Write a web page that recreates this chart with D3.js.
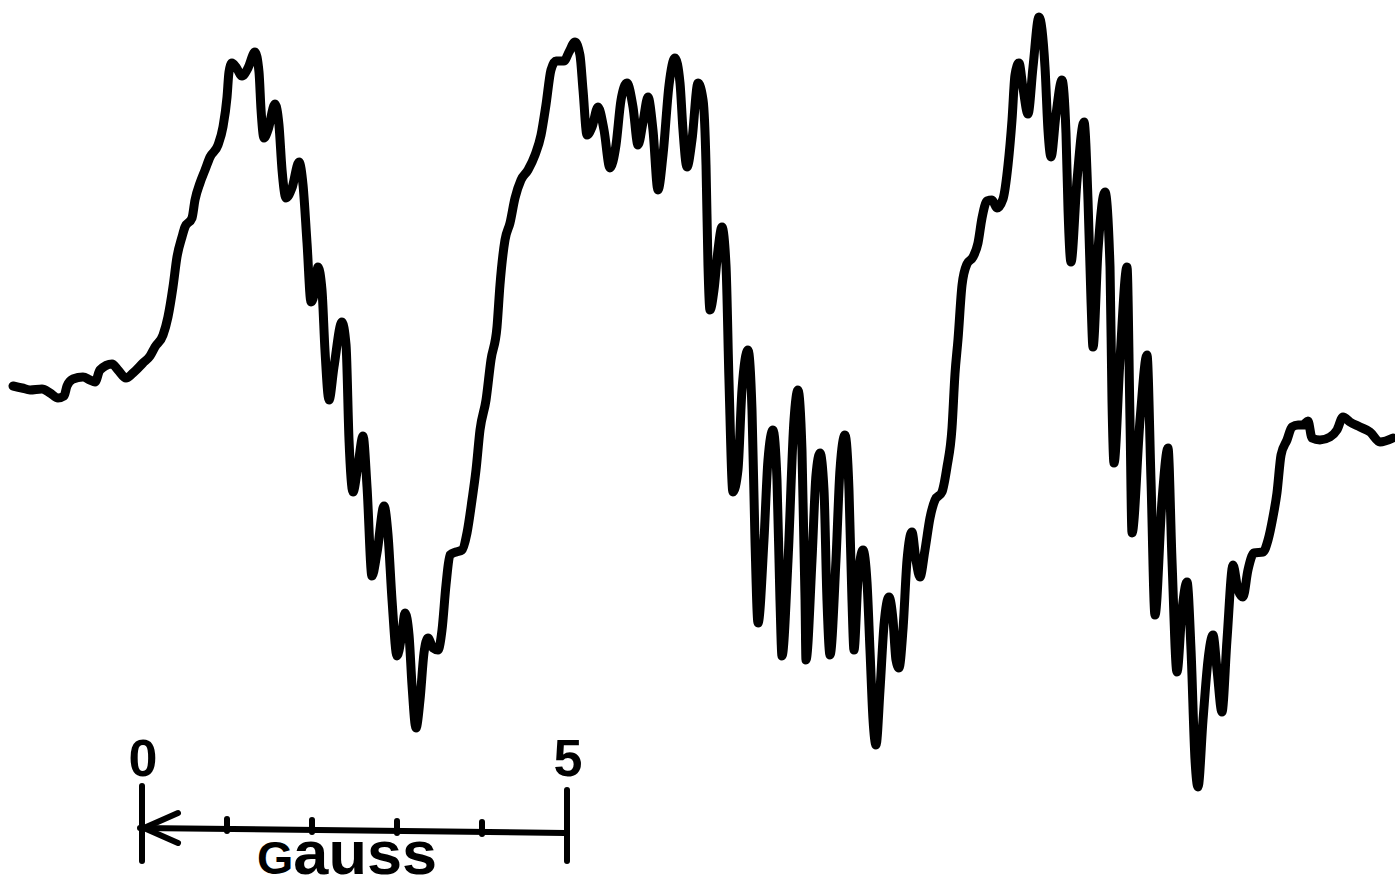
<!DOCTYPE html>
<html>
<head>
<meta charset="utf-8">
<script src="https://cdn.jsdelivr.net/npm/d3@7"></script>
<style>
  html, body { margin: 0; padding: 0; background: #fff; }
  svg { display: block; }
</style>
</head>
<body>
<svg id="chart"></svg>
<script>
// field position along the sweep, in gauss (0 = left end of the scale bar)
const field = [
  -1.494, -1.388, -1.294, -1.153, -1.059, -0.965, -0.894, -0.859, -0.788, -0.671,
  -0.588, -0.529, -0.471, -0.329, -0.259, -0.165, -0.082, 0.035, 0.118, 0.176,
  0.271, 0.329, 0.388, 0.435, 0.494, 0.529, 0.612, 0.647, 0.706, 0.765,
  0.824, 0.918, 0.976, 1.024, 1.047, 1.082, 1.129, 1.2, 1.271, 1.353,
  1.4, 1.424, 1.459, 1.506, 1.588, 1.635, 1.671, 1.718, 1.788, 1.871,
  1.918, 1.965, 2.012, 2.059, 2.094, 2.141, 2.176, 2.224, 2.282, 2.376,
  2.424, 2.459, 2.506, 2.565, 2.624, 2.671, 2.729, 2.788, 2.871, 2.918,
  2.965, 3.024, 3.082, 3.118, 3.165, 3.2, 3.247, 3.294, 3.341, 3.388,
  3.447, 3.506, 3.553, 3.6, 3.647, 3.718, 3.788, 3.847, 3.906, 3.953,
  4.0, 4.071, 4.129, 4.2, 4.235, 4.294, 4.353, 4.412, 4.482, 4.565,
  4.647, 4.718, 4.776, 4.835, 4.894, 4.988, 5.047, 5.118, 5.176, 5.212,
  5.259, 5.318, 5.388, 5.459, 5.529, 5.6, 5.659, 5.729, 5.8, 5.859,
  5.918, 5.976, 6.035, 6.094, 6.153, 6.224, 6.294, 6.353, 6.388, 6.435,
  6.494, 6.565, 6.624, 6.659, 6.682, 6.706, 6.753, 6.8, 6.847, 6.894,
  6.929, 6.976, 7.035, 7.082, 7.153, 7.2, 7.235, 7.271, 7.341, 7.388,
  7.447, 7.494, 7.529, 7.553, 7.624, 7.694, 7.741, 7.788, 7.824, 7.835,
  7.906, 7.953, 8.0, 8.047, 8.082, 8.118, 8.188, 8.235, 8.294, 8.341,
  8.376, 8.4, 8.447, 8.506, 8.553, 8.588, 8.624, 8.659, 8.706, 8.753,
  8.812, 8.859, 8.894, 8.929, 8.976, 9.024, 9.082, 9.129, 9.176, 9.235,
  9.294, 9.353, 9.435, 9.494, 9.553, 9.588, 9.624, 9.671, 9.729, 9.8,
  9.859, 9.906, 9.965, 10.024, 10.082, 10.153, 10.212, 10.259, 10.294, 10.341,
  10.388, 10.447, 10.506, 10.576, 10.647, 10.682, 10.718, 10.776, 10.847, 10.894,
  10.918, 10.953, 11.024, 11.106, 11.153, 11.188, 11.212, 11.271, 11.353, 11.412,
  11.435, 11.459, 11.529, 11.612, 11.647, 11.671, 11.765, 11.847, 11.894, 11.941,
  12.024, 12.094, 12.141, 12.2, 12.259, 12.318, 12.365, 12.412, 12.447, 12.506,
  12.565, 12.624, 12.671, 12.729, 12.788, 12.859, 12.918, 12.976, 13.035, 13.106,
  13.212, 13.271, 13.329, 13.376, 13.424, 13.494, 13.553, 13.624, 13.682, 13.741,
  13.788, 13.882, 14.0, 14.082, 14.153, 14.235, 14.353, 14.471, 14.588, 14.741
];

// first-derivative signal, arbitrary units
const signal = [
  1.4, 1.2, 1.0, 1.1, 0.7, 0.2, 0.4, 1.4, 2.1, 2.3,
  2.0, 1.8, 3.0, 3.6, 3.0, 2.2, 2.7, 3.7, 4.4, 5.3,
  6.5, 8.3, 11.3, 14.3, 16.3, 17.3, 18.2, 20.0, 21.7, 23.0,
  24.3, 25.5, 27.3, 30.3, 32.8, 33.7, 33.3, 32.4, 33.2, 34.8,
  32.8, 29.0, 26.2, 27.0, 29.6, 27.5, 23.0, 20.2, 21.2, 23.8,
  21.5, 15.7, 9.8, 11.0, 13.3, 11.0, 5.0, 0.0, 3.3, 7.8,
  5.5, -4.0, -9.2, -6.5, -3.6, -8.7, -17.6, -15.3, -10.6, -13.5,
  -20.0, -25.6, -23.3, -21.3, -23.5, -28.5, -32.8, -30.0, -25.3, -23.8,
  -24.8, -25.0, -23.0, -18.5, -15.5, -15.2, -15.0, -13.3, -10.0, -7.0,
  -3.0, 0.0, 4.0, 7.3, 11.5, 16.0, 17.7, 20.2, 22.0, 23.0,
  24.5, 26.5, 29.5, 33.0, 33.9, 33.9, 34.8, 35.8, 34.5, 31.0,
  26.5, 27.3, 29.3, 27.0, 23.2, 25.5, 30.0, 31.7, 29.3, 25.5,
  27.8, 30.3, 27.0, 21.0, 24.5, 31.5, 34.2, 31.7, 27.0, 23.3,
  26.0, 31.7, 30.0, 23.5, 13.5, 9.0, 11.0, 15.0, 17.3, 13.5,
  2.0, -9.2, -7.0, 1.0, 5.0, -1.0, -14.0, -22.3, -14.0, -6.0,
  -3.0, -8.0, -20.0, -25.6, -16.0, -2.0, 1.0, -5.0, -20.0, -26.0,
  -16.0, -7.5, -5.3, -9.0, -20.0, -25.5, -16.0, -7.0, -3.5, -9.0,
  -20.0, -25.0, -18.0, -15.0, -18.2, -25.0, -32.0, -34.5, -29.0, -22.5,
  -19.7, -22.0, -26.0, -26.8, -23.0, -16.0, -13.2, -16.0, -17.7, -15.0,
  -11.8, -10.0, -9.2, -6.7, -2.8, 2.6, 6.1, 11.5, 13.6, 14.3,
  15.7, 18.2, 19.9, 20.0, 19.2, 20.1, 23.5, 28.0, 32.5, 33.7,
  31.2, 28.6, 33.3, 38.3, 33.3, 27.0, 24.3, 28.5, 32.0, 26.7,
  19.0, 13.8, 22.0, 27.8, 20.0, 10.0, 5.3, 15.0, 20.8, 13.3,
  0.0, -6.3, 4.0, 13.3, -2.0, -13.3, -2.0, 4.5, -8.0, -21.5,
  -10.0, -4.8, -16.0, -27.2, -21.0, -18.2, -25.0, -36.0, -38.7, -32.0,
  -26.0, -23.5, -27.0, -31.2, -24.0, -16.5, -19.0, -19.7, -17.0, -15.3,
  -15.2, -14.0, -11.7, -9.3, -5.5, -4.0, -2.7, -2.5, -2.5, -2.1,
  -3.8, -4.0, -3.7, -3.0, -1.7, -2.2, -2.7, -3.2, -4.2, -3.8
];

const barEnds = [0, 5];
const barEndLabels = ["0", "5"];
const barTicks = [1, 2, 3, 4];
const unitLabel = "Gauss";

const width = 1395,
  height = 889;

const svg = d3.select("#chart").attr("width", width).attr("height", height);

const x = d3.scaleLinear().domain([0, 5]).range([140, 565]);
const y = d3.scaleLinear().domain([0, 10]).range([400, 300]);

const points = field.map((f, i) => ({ f: f, s: signal[i] }));

const line = d3
  .line()
  .x((d) => x(d.f))
  .y((d) => y(d.s))
  .curve(d3.curveMonotoneX);

svg
  .append("path")
  .datum(points)
  .attr("d", line)
  .attr("fill", "none")
  .attr("stroke", "#000")
  .attr("stroke-width", 9)
  .attr("stroke-linejoin", "round")
  .attr("stroke-linecap", "round");

// scale bar
const barY = 830;
const bar = svg
  .append("g")
  .attr("stroke", "#000")
  .attr("stroke-width", 6)
  .attr("stroke-linecap", "round")
  .attr("fill", "none");

bar
  .append("line")
  .attr("x1", x(barEnds[0]))
  .attr("x2", x(barEnds[1]))
  .attr("y1", barY - 2)
  .attr("y2", barY + 3);

bar
  .selectAll(".end")
  .data(barEnds)
  .join("line")
  .attr("class", "end")
  .attr("x1", (d) => x(d) + 2)
  .attr("x2", (d) => x(d) + 2)
  .attr("y1", (d, i) => (i === 0 ? 786 : 790))
  .attr("y2", 861);

bar
  .selectAll(".tick")
  .data(barTicks)
  .join("line")
  .attr("class", "tick")
  .attr("x1", (d) => x(d) + 2)
  .attr("x2", (d) => x(d) + 2)
  .attr("y1", (d) => barY - 12 + d)
  .attr("y2", (d) => barY + d);

bar
  .append("polyline")
  .attr("stroke-linejoin", "round")
  .attr(
    "points",
    [
      [x(barEnds[0]) + 38, barY - 17],
      [x(barEnds[0]) + 4, barY - 2],
      [x(barEnds[0]) + 38, barY + 13],
    ].join(" ")
  );

svg
  .selectAll(".endLabel")
  .data(barEnds)
  .join("text")
  .attr("class", "endLabel")
  .attr("x", (d) => x(d) + 3)
  .attr("y", 776)
  .attr("text-anchor", "middle")
  .attr("font-family", "Liberation Sans, Arial, sans-serif")
  .attr("font-weight", "bold")
  .attr("font-size", 52)
  .text((d, i) => barEndLabels[i]);

const unit = svg
  .append("text")
  .attr("x", 257)
  .attr("y", 874)
  .attr("font-family", "Liberation Sans, Arial, sans-serif")
  .attr("font-weight", "bold")
  .attr("font-size", 62)
  .attr("textLength", 180)
  .attr("lengthAdjust", "spacingAndGlyphs");

unit.append("tspan").attr("font-size", 46).text(unitLabel.slice(0, 1));
unit.append("tspan").text(unitLabel.slice(1));
</script>
</body>
</html>
